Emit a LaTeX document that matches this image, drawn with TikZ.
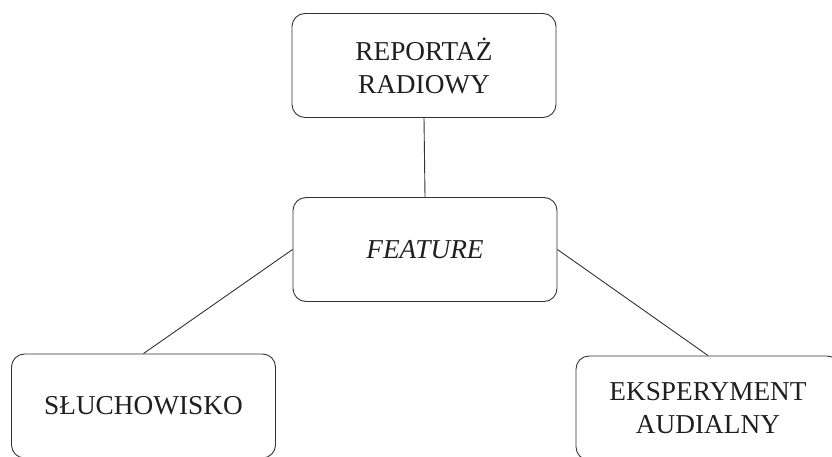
\documentclass[tikz,border=0pt]{standalone}
\usepackage{fontspec}
\setmainfont{Liberation Serif}
\begin{document}
\begin{tikzpicture}[x=1pt,y=-1pt,
  inkline/.style={draw=black!80,line width=0.9pt},
  genrebox/.style={inkline,rectangle,rounded corners=13pt,
    minimum width=264pt,minimum height=104pt,align=center,
    text=black!88,font=\fontsize{27.3}{33}\selectfont}]
\useasboundingbox (0,0) rectangle (832,457);
\clip (0,0) rectangle (832,457);
\node[genrebox] (top) at (424,65.5) {REPORTAŻ\\RADIOWY};
\node[genrebox] (mid) at (425,249.5) {\itshape FEATURE};
\node[genrebox] (left) at (143.5,406) {SŁUCHOWISKO};
\node[genrebox] (right) at (708,408) {EKSPERYMENT\\AUDIALNY};
\draw[inkline] (top.south) -- (mid.north);
\draw[inkline] (mid.west) -- (left.north);
\draw[inkline] (mid.east) -- (right.north);
\end{tikzpicture}
\end{document}
